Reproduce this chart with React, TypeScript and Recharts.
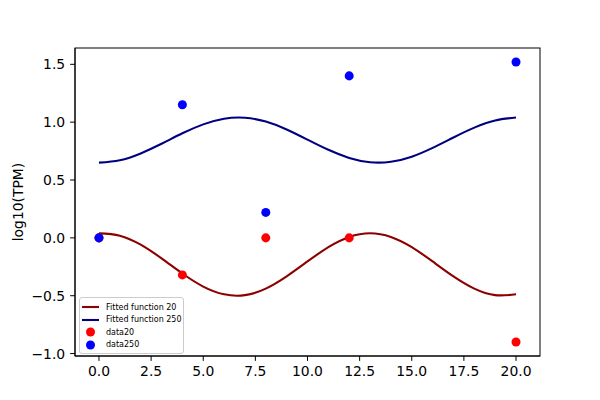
import { ComposedChart, Line, Scatter, XAxis, YAxis } from "recharts";

// fitted curves at whole x steps
const fitX = [0, 1, 2, 3, 4, 5, 6, 7, 8, 9, 10, 11, 12, 13, 14, 15, 16, 17, 18, 19, 20];
const fit20 = [0.039, 0.019, -0.059, -0.177, -0.308, -0.421, -0.488, -0.495, -0.439, -0.333, -0.204, -0.08, 0.008, 0.04, 0.008, -0.08, -0.204, -0.333, -0.439, -0.495, -0.488];
const fit250 = [0.65, 0.671, 0.73, 0.813, 0.904, 0.981, 1.03, 1.038, 1.005, 0.937, 0.849, 0.761, 0.691, 0.654, 0.658, 0.702, 0.778, 0.868, 0.953, 1.015, 1.04];

// measured points
const sampleX = [0, 4, 8, 12, 20];
const data20 = [0, -0.32, 0, 0, -0.9];
const data250 = [0, 1.15, 0.22, 1.4, 1.52];

const xTicks = [0, 2.5, 5, 7.5, 10, 12.5, 15, 17.5, 20];
const yTicks = [-1, -0.5, 0, 0.5, 1, 1.5];

const legendItems = [
  { name: "Fitted function 20", color: "#8b0000", kind: "line" },
  { name: "Fitted function 250", color: "#000080", kind: "line" },
  { name: "data20", color: "#ff0000", kind: "dot" },
  { name: "data250", color: "#0000ff", kind: "dot" },
];

const fitRows = fitX.map((x, i) => ({ x, f20: fit20[i], f250: fit250[i] }));
const pts20 = sampleX.map((x, i) => ({ x, y: data20[i] }));
const pts250 = sampleX.map((x, i) => ({ x, y: data250[i] }));

const font = "DejaVu Sans, sans-serif";
const fmt = (v: number) => v.toFixed(1).replace("-", "\u2212");
const tickStyle = { fill: "#000", fontSize: 13.9, fontFamily: font };

// plot box, follows from the chart margins below
const box = { left: 75, top: 48, right: 540, bottom: 356 };

export default function App() {
  return (
    <div style={{ position: "absolute", left: 0, top: 0, width: 600, height: 400, background: "#fff" }}>
      <ComposedChart width={600} height={400} data={fitRows} margin={{ top: 48, right: 60, bottom: 0, left: 0 }}>
        <XAxis
          dataKey="x"
          type="number"
          domain={[-1.15, 21.15]}
          ticks={xTicks}
          tickFormatter={fmt}
          height={44}
          tick={tickStyle}
          tickSize={4.9}
          tickMargin={4.9}
          stroke="#000"
          allowDataOverflow
        />
        <YAxis
          type="number"
          domain={[-1.021, 1.641]}
          ticks={yTicks}
          tickFormatter={fmt}
          width={75}
          tick={tickStyle}
          tickSize={4.9}
          tickMargin={4.9}
          stroke="#000"
          allowDataOverflow
        />
        <Line type="natural" dataKey="f20" stroke="#8b0000" strokeWidth={2.1} dot={false} isAnimationActive={false} />
        <Line type="natural" dataKey="f250" stroke="#000080" strokeWidth={2.1} dot={false} isAnimationActive={false} />
        <Scatter data={pts20} dataKey="y" fill="#ff0000" isAnimationActive={false} />
        <Scatter data={pts250} dataKey="y" fill="#0000ff" isAnimationActive={false} />
      </ComposedChart>

      <svg width={600} height={400} style={{ position: "absolute", left: 0, top: 0, pointerEvents: "none" }}>
        <rect
          x={box.left}
          y={box.top}
          width={box.right - box.left}
          height={box.bottom - box.top}
          fill="none"
          stroke="#000"
          strokeWidth={1}
        />
        <text x={18} y={202} transform="rotate(-90 18 202)" textAnchor="middle" dominantBaseline="central" fontSize={13.9} fontFamily={font} fill="#000">
          log10(TPM)
        </text>
      </svg>

      <div
        style={{
          position: "absolute",
          left: 79,
          top: 297,
          width: 103,
          padding: "3px 0 2px 0",
          border: "1px solid #cccccc",
          borderRadius: 3,
          background: "rgba(255,255,255,0.8)",
          fontFamily: font,
          fontSize: 8,
          color: "#000",
        }}
      >
        {legendItems.map((item) => (
          <div key={item.name} style={{ display: "flex", alignItems: "center", height: 12.5 }}>
            <svg width={26} height={12} style={{ flex: "none" }}>
              {item.kind === "line" ? (
                <line x1={2} x2={19} y1={6} y2={6} stroke={item.color} strokeWidth={2.1} />
              ) : (
                <circle cx={10.5} cy={6} r={4.5} fill={item.color} />
              )}
            </svg>
            <span style={{ whiteSpace: "nowrap" }}>{item.name}</span>
          </div>
        ))}
      </div>
    </div>
  );
}
